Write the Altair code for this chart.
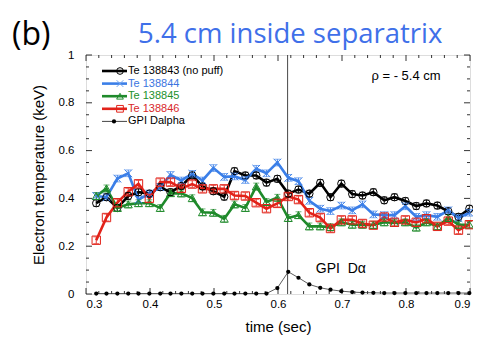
import altair as alt
import pandas as pd

# ---------------- data ----------------
TIME = [0.316, 0.332, 0.349, 0.366, 0.382, 0.399, 0.416, 0.432, 0.449, 0.466,
        0.482, 0.499, 0.516, 0.532, 0.549, 0.566, 0.582, 0.599, 0.616, 0.632,
        0.649, 0.666, 0.682, 0.699, 0.716, 0.732, 0.749, 0.766, 0.782, 0.799,
        0.816, 0.832, 0.849, 0.866, 0.882, 0.899]

TE_138843 = [0.380, 0.405, 0.360, 0.410, 0.426, 0.420, 0.447, 0.426, 0.452, 0.496,
             0.450, 0.430, 0.407, 0.514, 0.496, 0.496, 0.466, 0.482, 0.420, 0.437,
             0.420, 0.465, 0.405, 0.462, 0.418, 0.412, 0.426, 0.392, 0.405, 0.389,
             0.368, 0.379, 0.370, 0.346, 0.323, 0.357]
TE_138844 = [0.410, 0.405, 0.483, 0.505, 0.395, 0.420, 0.447, 0.498, 0.475, 0.503,
             0.475, 0.527, 0.490, 0.492, 0.477, 0.524, 0.505, 0.550, 0.486, 0.472,
             0.390, 0.357, 0.347, 0.370, 0.350, 0.375, 0.333, 0.330, 0.330, 0.367,
             0.323, 0.330, 0.323, 0.350, 0.318, 0.340]
TE_138845 = [0.410, 0.442, 0.360, 0.375, 0.380, 0.380, 0.360, 0.422, 0.421, 0.401,
             0.342, 0.340, 0.315, 0.375, 0.360, 0.450, 0.385, 0.403, 0.318, 0.330,
             0.283, 0.283, 0.280, 0.300, 0.290, 0.290, 0.289, 0.300, 0.297, 0.300,
             0.278, 0.300, 0.283, 0.318, 0.290, 0.290]
TE_138846 = [0.225, 0.320, 0.382, 0.428, 0.461, 0.400, 0.468, 0.468, 0.442, 0.460,
             0.440, 0.440, 0.440, 0.412, 0.410, 0.382, 0.357, 0.379, 0.408, 0.395,
             0.340, 0.320, 0.274, 0.310, 0.310, 0.295, 0.288, 0.322, 0.300, 0.310,
             0.300, 0.315, 0.283, 0.305, 0.267, 0.290]
GPI_DALPHA = [0.002, 0.002, 0.002, 0.002, 0.002, 0.002, 0.002, 0.002, 0.002, 0.002,
              0.002, 0.002, 0.002, 0.002, 0.002, 0.002, 0.002, 0.025, 0.093, 0.068,
              0.040, 0.026, 0.018, 0.012, 0.008, 0.006, 0.005, 0.004, 0.004, 0.004,
              0.004, 0.004, 0.004, 0.004, 0.004, 0.004]
TE_ERR = 0.014

SERIES = ["Te 138843 (no puff)", "Te 138844", "Te 138845", "Te 138846"]
LINE_COLORS = ["#000000", "#3b7fe8", "#1f8a2b", "#e2231a"]
MARK_COLORS = ["#000000", "#6fa3f0", "#1f8a2b", "#e2231a"]
LABEL_COLORS = ["#000000", "#3a74e0", "#21902b", "#d8282a"]
X_PATH = "M-1,-1L1,1M1,-1L-1,1"
SHAPES = ["circle", X_PATH, "triangle-up", "square"]
SIZES = [55, 70, 36, 45]

X_MAJOR = [0.3, 0.4, 0.5, 0.6, 0.7, 0.8, 0.9]
X_MINOR = [0.32, 0.34, 0.36, 0.38, 0.42, 0.44, 0.46, 0.48, 0.52, 0.54, 0.56, 0.58,
           0.62, 0.64, 0.66, 0.68, 0.72, 0.74, 0.76, 0.78, 0.82, 0.84, 0.86, 0.88]
Y_MAJOR = [0, 0.2, 0.4, 0.6, 0.8, 1.0]
Y_MINOR = [0.05, 0.1, 0.15, 0.25, 0.3, 0.35, 0.45, 0.5, 0.55, 0.65, 0.7, 0.75,
           0.85, 0.9, 0.95]
MARK_TIME = 0.615

W, H = 384, 239
FONT = "Liberation Sans"

# ---------------- frames ----------------
rows = []
for name, vals in zip(SERIES, [TE_138843, TE_138844, TE_138845, TE_138846]):
    for t, v in zip(TIME, vals):
        rows.append({"series": name, "t": t, "v": v, "lo": v - TE_ERR, "hi": v + TE_ERR})
te = pd.DataFrame(rows)
gpi = pd.DataFrame({"t": TIME, "v": GPI_DALPHA})

xs = alt.Scale(domain=[0.3, 0.9], nice=False, zero=False)
ys = alt.Scale(domain=[0, 1], nice=False, zero=False)
XAX = alt.Axis(values=X_MAJOR, format=".1f", ticks=False, domain=False, grid=False,
               labelFontSize=11.5, labelPadding=4, labelFont=FONT,
               titleFont=FONT, titleFontSize=15, titleFontWeight="normal",
               titlePadding=10, labelColor="#000", titleColor="#000")
YAX = alt.Axis(values=Y_MAJOR, format="~g", ticks=False, domain=False, grid=False,
               labelFontSize=11.5, labelPadding=12, labelFont=FONT,
               titleFont=FONT, titleFontSize=15, titleFontWeight="normal",
               titlePadding=12, labelColor="#000", titleColor="#000")
XT = "time (sec)"
YT = "Electron temperature (keV)"
X = alt.X("t:Q", scale=xs, axis=XAX, title=XT)
Y = alt.Y("v:Q", scale=ys, axis=YAX, title=YT)

line_color = alt.Color("series:N", scale=alt.Scale(domain=SERIES, range=LINE_COLORS), legend=None)
mark_color = alt.Color("series:N", scale=alt.Scale(domain=SERIES, range=MARK_COLORS), legend=None)
shape = alt.Shape("series:N", scale=alt.Scale(domain=SERIES, range=SHAPES), legend=None)
size = alt.Size("series:N", scale=alt.Scale(domain=SERIES, range=SIZES), legend=None)

base = alt.Chart(te)

def xticks(vals, length):
    d = alt.Chart(pd.DataFrame({"t": vals}))
    b = d.mark_rule(color="#000", strokeWidth=0.8).encode(x=X, y=alt.value(H), y2=alt.value(H - length))
    tp = d.mark_rule(color="#000", strokeWidth=0.8).encode(x=X, y=alt.value(0), y2=alt.value(length))
    return b + tp

def yticks(vals, length):
    d = alt.Chart(pd.DataFrame({"v": vals}))
    l = d.mark_rule(color="#000", strokeWidth=0.8).encode(y=Y, x=alt.value(0), x2=alt.value(length))
    r = d.mark_rule(color="#000", strokeWidth=0.8).encode(y=Y, x=alt.value(W), x2=alt.value(W - length))
    return l + r

ticks = xticks(X_MAJOR, 6) + xticks(X_MINOR, 3) + yticks(Y_MAJOR, 6) + yticks(Y_MINOR, 3)

vline = alt.Chart(pd.DataFrame({"t": [MARK_TIME]})).mark_rule(color="#333", strokeWidth=0.9).encode(x=X)

gpi_line = alt.Chart(gpi).mark_line(color="#333", strokeWidth=0.8).encode(x=X, y=Y)
gpi_pts = alt.Chart(gpi).mark_point(filled=True, color="#000", size=18, opacity=1).encode(x=X, y=Y)

YLO = alt.Y("lo:Q", scale=ys, axis=YAX, title=YT)
YHI = alt.Y("hi:Q", scale=ys, axis=YAX, title=YT)
lines = base.mark_line(strokeWidth=2.6).encode(x=X, y=Y, color=line_color, detail="series:N")
err_rule = base.mark_rule(strokeWidth=0.9).encode(x=X, y=YLO, y2="hi:Q", color=mark_color)
err_lo = base.mark_tick(orient="horizontal", size=6, thickness=0.9).encode(x=X, y=YLO, color=mark_color)
err_hi = base.mark_tick(orient="horizontal", size=6, thickness=0.9).encode(x=X, y=YHI, color=mark_color)
markers = base.mark_point(filled=False, strokeWidth=1, opacity=1).encode(
    x=X, y=Y, color=mark_color, shape=shape, size=size)

# legend (manual, inside plot)
LEG_LABELS = SERIES + ["GPI Dalpha"]
leg = pd.DataFrame({
    "label": LEG_LABELS,
    "row": [0, 1, 2, 3, 4],
    "lc": LINE_COLORS + ["#444444"],
    "mc": MARK_COLORS + ["#000000"],
    "tc": LABEL_COLORS + ["#000000"],
    "shape": SHAPES + ["circle"],
    "filled": [False, False, False, False, True],
    "sw": [2.6, 2.6, 2.6, 2.6, 1.0],
})
lb = alt.Chart(leg).transform_calculate(py="16 + 12.6*datum.row")
LY = alt.Y("py:Q", scale=None)
leg_lines = lb.mark_rule().encode(
    y=LY, x=alt.value(16), x2=alt.value(41),
    color=alt.Color("lc:N", scale=None), strokeWidth=alt.StrokeWidth("sw:Q", scale=None))
leg_marks_open = lb.transform_filter("!datum.filled").mark_point(filled=False, strokeWidth=1, opacity=1, size=45).encode(
    y=LY, x=alt.value(34), color=alt.Color("mc:N", scale=None), shape=alt.Shape("shape:N", scale=None))
leg_marks_fill = lb.transform_filter("datum.filled").mark_point(filled=True, opacity=1, size=18).encode(
    y=LY, x=alt.value(28), color=alt.Color("mc:N", scale=None))
leg_text = lb.mark_text(align="left", baseline="middle", font=FONT, fontSize=11).encode(
    y=LY, x=alt.value(42), text="label:N", color=alt.Color("tc:N", scale=None))

# annotations
ann = pd.DataFrame({"t": [0.659, 0.746], "v": [0.104, 0.9125],
                    "txt": ["GPI\u00a0\u00a0D\u03b1", "\u03c1 = - 5.4 cm"],
                    "fs": [14, 13]})
ann_text = alt.Chart(ann).mark_text(align="left", baseline="middle", font=FONT, color="#000").encode(
    x=X, y=Y, text="txt:N", size=alt.Size("fs:Q", scale=None))

# headings
head = pd.DataFrame({"txt": ["(b)", "5.4 cm inside separatrix"], "px": [-74, 52],
                     "py": [-10, -12], "fs": [32, 27.5], "col": ["#000000", "#3f70e9"]})
head_text = alt.Chart(head).mark_text(align="left", baseline="alphabetic", font="Open Sans").encode(
    x=alt.X("px:Q", scale=None), y=alt.Y("py:Q", scale=None), text="txt:N",
    size=alt.Size("fs:Q", scale=None), color=alt.Color("col:N", scale=None))

chart = alt.layer(
    ticks, vline, gpi_line, gpi_pts, lines, err_rule, err_lo, err_hi, markers,
    leg_lines, leg_marks_open, leg_marks_fill, leg_text, ann_text, head_text,
).properties(
    width=W, height=H,
    autosize=alt.AutoSizeParams(type="none"),
    padding={"left": 78, "top": 47, "right": 3, "bottom": 45},
).configure_view(stroke="#000", strokeWidth=1).configure(background="white")

chart.save("out.html", embed_options={"renderer": "svg", "actions": False})
